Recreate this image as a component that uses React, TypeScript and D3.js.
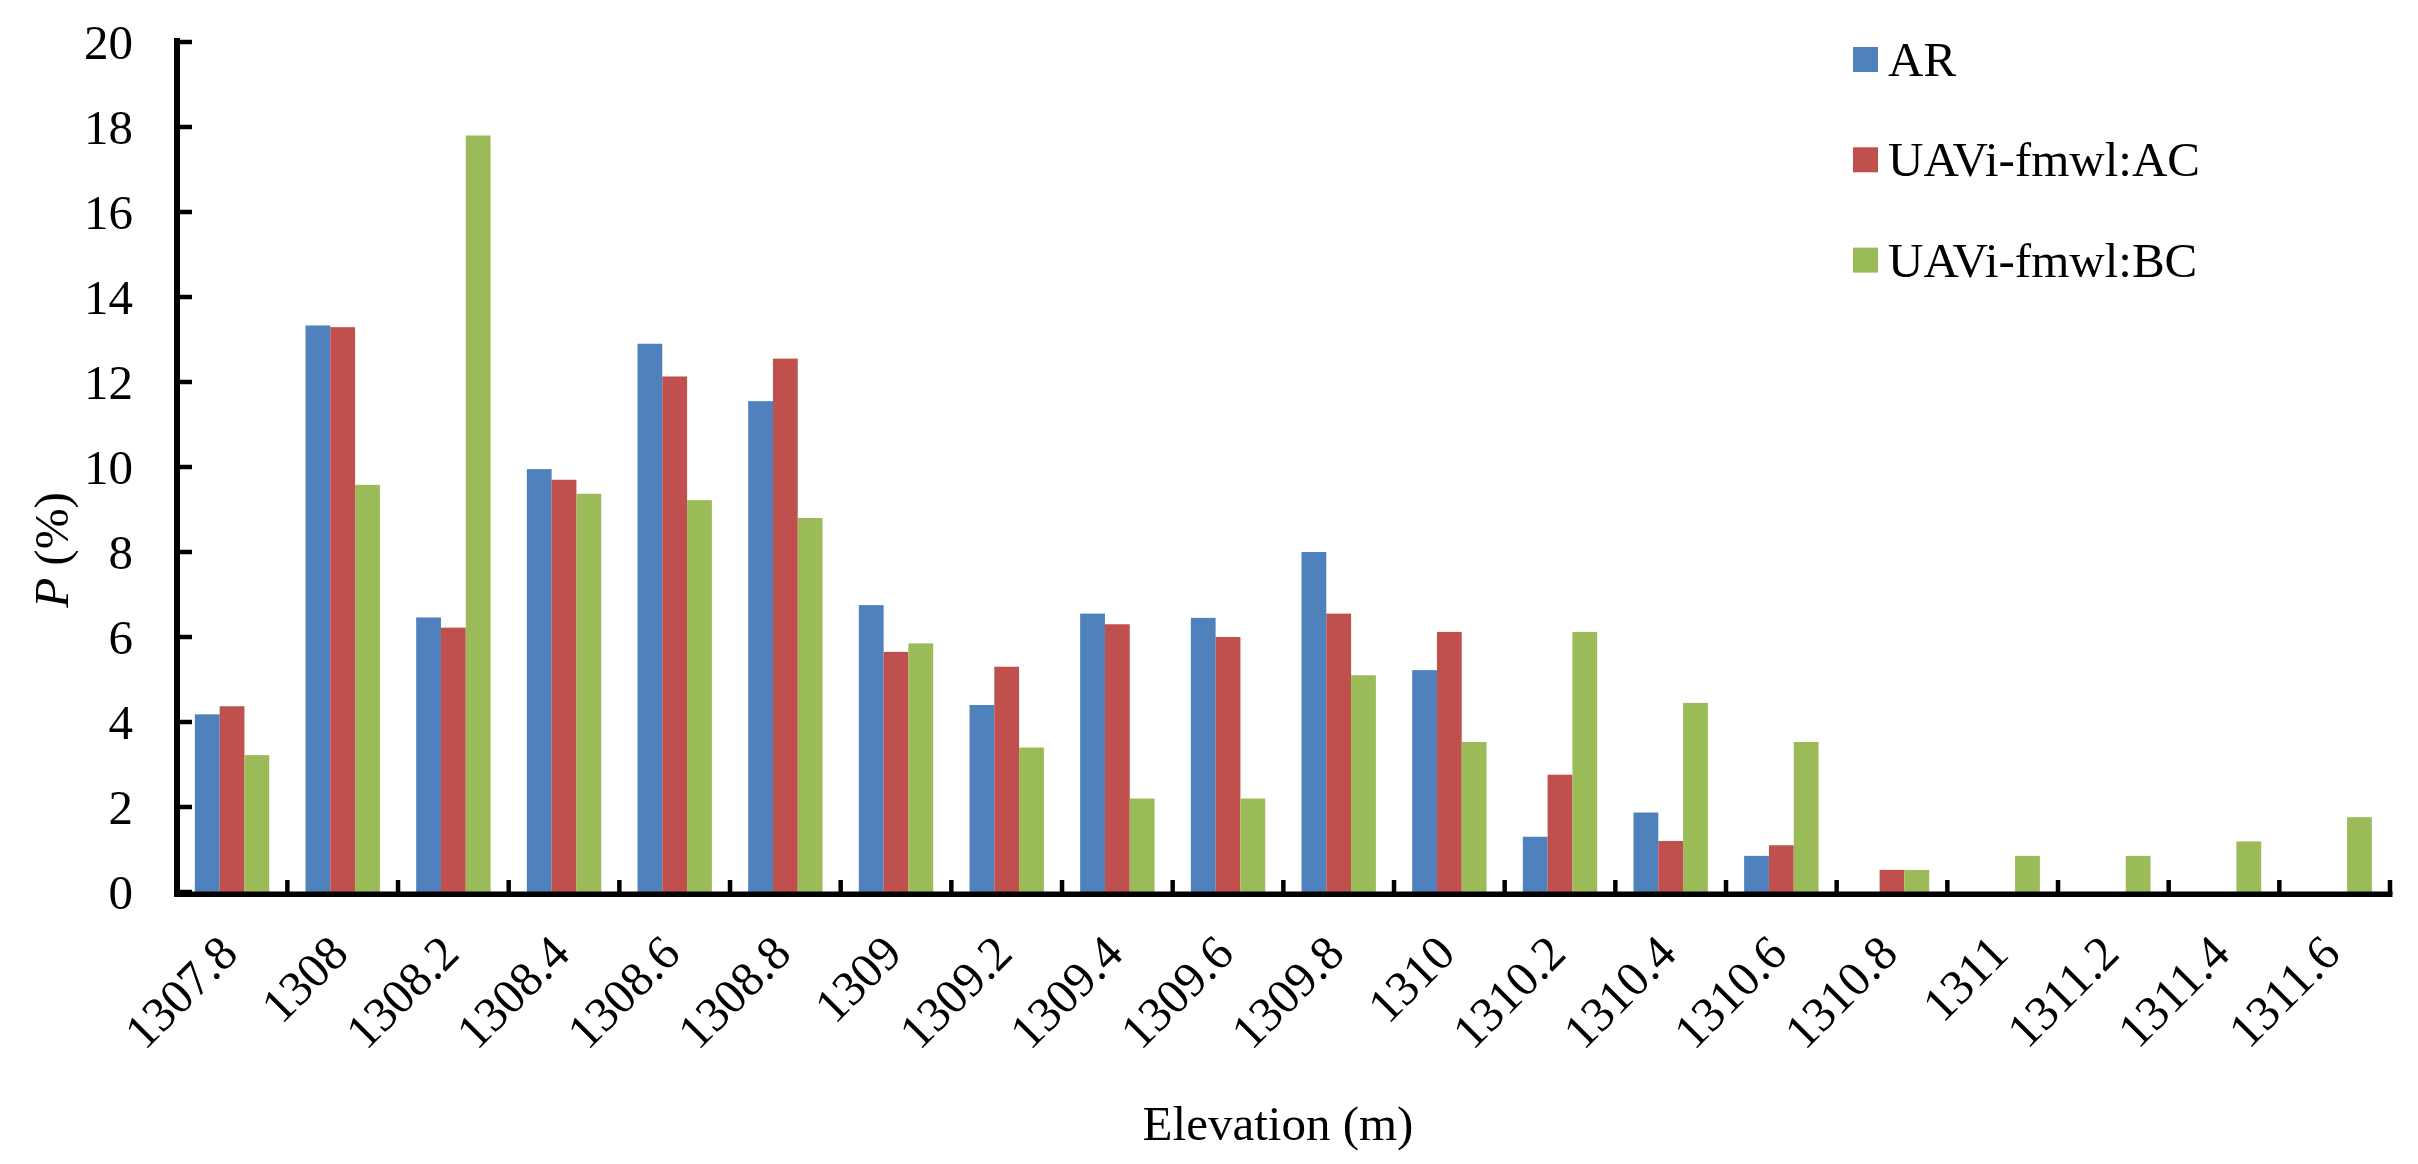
import React from "react";
import * as d3 from "d3";

const categories = [
  "1307.8", "1308", "1308.2", "1308.4", "1308.6", "1308.8", "1309", "1309.2", "1309.4", "1309.6",
  "1309.8", "1310", "1310.2", "1310.4", "1310.6", "1310.8", "1311", "1311.2", "1311.4", "1311.6",
];
const seriesNames = ["AR", "UAVi-fmwl:AC", "UAVi-fmwl:BC"];
const arValues = [4.18, 13.33, 6.46, 9.95, 12.9, 11.55, 6.75, 4.4, 6.55, 6.45, 8.0, 5.22, 1.3, 1.87, 0.85, 0, 0, 0, 0, 0];
const acValues = [4.37, 13.29, 6.22, 9.7, 12.13, 12.55, 5.65, 5.3, 6.3, 6.0, 6.55, 6.12, 2.76, 1.2, 1.1, 0.52, 0, 0, 0, 0];
const bcValues = [3.22, 9.58, 17.8, 9.37, 9.22, 8.8, 5.85, 3.4, 2.2, 2.2, 5.1, 3.53, 6.12, 4.45, 3.53, 0.52, 0.85, 0.85, 1.19, 1.76];
const colors = ["#4F81BD", "#C0504D", "#9BBB59"];
const yTicks = [0, 2, 4, 6, 8, 10, 12, 14, 16, 18, 20];

const W = 2418;
const H = 1164;
const FONT = "'Liberation Serif', 'Times New Roman', serif";

export default function App() {
  const left = 176.7;
  const right = 2390;
  const top = 42;
  const bottom = 892;
  const x = d3.scaleBand<string>().domain(categories).range([left, right]).paddingInner(0).paddingOuter(0);
  const y = d3.scaleLinear().domain([0, 20]).range([bottom, top]);
  const bw = x.bandwidth() * 0.224;
  const series = [arValues, acValues, bcValues];
  const fs = 49;

  return (
    <div style={{ position: "absolute", left: 0, top: 0 }}>
      <svg width={W} height={H} viewBox={`0 0 ${W} ${H}`} style={{ display: "block", background: "#fff" }}>
        <rect x={0} y={0} width={W} height={H} fill="#fff" />
        {/* bars */}
        {categories.map((c, i) => {
          const cx = (x(c) as number) + x.bandwidth() / 2;
          return series.map((vals, s) =>
            vals[i] > 0 ? (
              <rect
                key={`${c}-${s}`}
                x={cx - 1.5 * bw + s * bw}
                y={y(vals[i])}
                width={bw}
                height={bottom - y(vals[i])}
                fill={colors[s]}
              />
            ) : null
          );
        })}
        {/* y axis */}
        <line x1={177} x2={177} y1={top - 4} y2={bottom + 5} stroke="#000" strokeWidth={6} />
        {yTicks.map((t) => (
          <g key={t}>
            <line x1={177} x2={192} y1={y(t)} y2={y(t)} stroke="#000" strokeWidth={4.5} />
            <text x={133} y={y(t)} dy="0.35em" textAnchor="end" fontFamily={FONT} fontSize={fs} fill="#000">
              {t}
            </text>
          </g>
        ))}
        {/* x axis */}
        <line x1={174} x2={right + 2.5} y1={894.2} y2={894.2} stroke="#000" strokeWidth={5.5} />
        {d3.range(1, categories.length + 1).map((k) => {
          const tx = left + k * x.bandwidth();
          return <line key={k} x1={tx} x2={tx} y1={880} y2={894} stroke="#000" strokeWidth={4.5} />;
        })}
        {categories.map((c) => {
          const cx = (x(c) as number) + x.bandwidth() / 2;
          const ex = cx + 8;
          const ey = 956;
          return (
            <text
              key={c}
              x={ex}
              y={ey}
              textAnchor="end"
              transform={`rotate(-45 ${ex} ${ey})`}
              fontFamily={FONT}
              fontSize={fs}
              fill="#000"
            >
              {c}
            </text>
          );
        })}
        {/* axis titles */}
        <text x={1278} y={1140} textAnchor="middle" fontFamily={FONT} fontSize={fs} fill="#000">
          Elevation (m)
        </text>
        <text
          x={0}
          y={0}
          textAnchor="middle"
          transform={`translate(68 550) rotate(-90)`}
          fontFamily={FONT}
          fontSize={fs}
          fill="#000"
        >
          <tspan fontStyle="italic">P</tspan>
          <tspan> (%)</tspan>
        </text>
        {/* legend */}
        {seriesNames.map((n, i) => {
          const cy = 59.5 + i * 100.3;
          return (
            <g key={n}>
              <rect x={1853} y={cy - 12.5} width={25} height={25} fill={colors[i]} />
              <text x={1888} y={cy + 16.5} fontFamily={FONT} fontSize={fs} fill="#000">
                {n}
              </text>
            </g>
          );
        })}
      </svg>
    </div>
  );
}
